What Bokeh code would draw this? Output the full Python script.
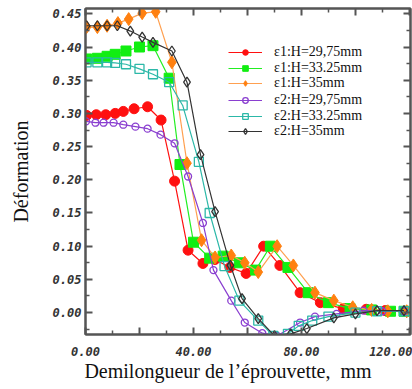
from bokeh.plotting import figure
from bokeh.models import (Range1d, LinearAxis, FixedTicker, NumeralTickFormatter,
                          Legend, LegendItem)
from bokeh.embed import file_html
from bokeh.resources import INLINE

# ---- data ----
x_e1_2975 = [0.4, 4, 7.5, 11, 14, 18, 23, 28, 33, 38, 43.5, 48, 53.5, 59.5, 66, 72, 79.5, 87, 95.5, 104, 111, 118]
y_e1_2975 = [0.297, 0.298, 0.298, 0.300, 0.303, 0.307, 0.310, 0.290, 0.198, 0.094, 0.074, 0.080, 0.068, 0.059,
             0.100, 0.071, 0.030, 0.015, 0.006, 0.005, 0.003, 0.002]

x_e1_3325 = [0.4, 4.4, 8, 11, 15, 20, 25, 31, 35, 40, 46, 51, 57, 63, 68.5, 75, 82.5, 90, 98, 106, 113, 118]
y_e1_3325 = [0.382, 0.383, 0.386, 0.389, 0.394, 0.400, 0.402, 0.353, 0.223, 0.106, 0.082, 0.085, 0.075, 0.064,
             0.100, 0.068, 0.030, 0.015, 0.006, 0.004, 0.002, 0.002]

x_e1_35 = [0.4, 4.4, 8, 12, 16, 21, 26, 32, 37.6, 43, 48, 54, 59, 64, 71, 77, 85, 92, 99, 106, 112, 119]
y_e1_35 = [0.430, 0.430, 0.432, 0.436, 0.442, 0.451, 0.453, 0.377, 0.225, 0.109, 0.083, 0.086, 0.075, 0.061,
           0.100, 0.071, 0.030, 0.018, 0.008, 0.004, 0.002, 0.002]

x_e2_2975 = [0.2, 3.7, 6.7, 10.4, 14, 18.5, 23, 27.8, 33, 38, 43.5, 47.4, 54, 59, 65.5, 71, 79.5, 85, 93, 103, 110, 118]
y_e2_2975 = [0.288, 0.286, 0.286, 0.286, 0.283, 0.280, 0.277, 0.268, 0.255, 0.205, 0.135, 0.064, 0.018, -0.015,
             -0.031, -0.035, -0.015, -0.006, -0.002, 0.003, 0.002, 0.002]

x_e2_3325 = [0.4, 4.4, 8, 11, 15, 20, 25, 31, 36, 42, 46, 51.5, 57, 64, 69.6, 75, 79, 84, 90, 100, 108, 118]
y_e2_3325 = [0.377, 0.377, 0.377, 0.376, 0.374, 0.367, 0.359, 0.347, 0.312, 0.227, 0.150, 0.070, 0.018, -0.012,
             -0.035, -0.032, -0.020, -0.012, -0.006, 0.000, 0.002, 0.002]

x_e2_35 = [0.4, 4.4, 8, 11.8, 16.6, 21, 25, 32, 37.6, 42.6, 48, 53.7, 58, 64, 70, 76, 82, 92, 100, 108, 118]
y_e2_35 = [0.432, 0.432, 0.432, 0.432, 0.424, 0.415, 0.407, 0.394, 0.347, 0.238, 0.152, 0.071, 0.021, -0.009,
           -0.035, -0.032, -0.024, -0.008, -0.002, 0.003, 0.003]

labels = ["ε1:H=29,75mm", "ε1:H=33.25mm", "ε1:H=35mm",
          "ε2:H=29,75mm", "ε2:H=33.25mm", "ε2:H=35mm"]

x_major = [0, 20, 40, 60, 80, 100, 120]
x_minor = [10, 30, 50, 70, 90, 110]
y_major = [0.0, 0.05, 0.10, 0.15, 0.20, 0.25, 0.30, 0.35, 0.40, 0.45]
y_minor = [-0.025, 0.025, 0.075, 0.125, 0.175, 0.225, 0.275, 0.325, 0.375, 0.425]

# ---- figure ----
p = figure(width=412, height=389, output_backend="svg", toolbar_location=None,
           x_range=Range1d(0, 120.4), y_range=Range1d(-0.033, 0.458),
           min_border_left=85, min_border_right=2, min_border_top=8, min_border_bottom=55)
p.grid.visible = False
p.outline_line_color = "#555555"
p.outline_line_width = 2
p.background_fill_color = "white"
p.border_fill_color = "white"

AX = "#555555"
tick_font = "DejaVu Sans Mono"

def style_axis(ax, show_labels):
    ax.axis_line_color = AX
    ax.axis_line_width = 2
    ax.major_tick_line_color = AX
    ax.minor_tick_line_color = AX
    ax.major_tick_line_width = 2
    ax.minor_tick_line_width = 1.5
    ax.major_tick_in = 7
    ax.major_tick_out = 0
    ax.minor_tick_in = 4
    ax.minor_tick_out = 0
    if show_labels:
        ax.major_label_text_font = tick_font
        ax.major_label_text_font_style = "bold italic"
        ax.major_label_text_font_size = "12px"
        ax.major_label_text_color = "#333333"
    else:
        ax.major_label_text_font_size = "0px"
        ax.major_label_standoff = 0

xt = FixedTicker(ticks=x_major, minor_ticks=x_minor)
yt = FixedTicker(ticks=y_major, minor_ticks=y_minor)

NB = "\u00a0"
xa = p.xaxis[0]
xa.ticker = xt
xa.formatter = NumeralTickFormatter(format="0.00")
xa.major_label_overrides = {20: "", 60: "", 100: ""}
style_axis(xa, True)
xa.major_label_standoff = 12
xa.axis_label = "Demilongueur de l’éprouvette," + NB + NB + "mm" + NB * 8
xa.axis_label_text_font = "Liberation Serif"
xa.axis_label_text_font_style = "normal"
xa.axis_label_text_font_size = "20px"
xa.axis_label_standoff = 1
xa.axis_label_text_color = "#111111"

ya = p.yaxis[0]
ya.ticker = yt
ya.formatter = NumeralTickFormatter(format="0.00")
style_axis(ya, True)
ya.major_label_standoff = 4
ya.axis_label = "Déformation"
ya.axis_label_text_font = "Liberation Serif"
ya.axis_label_text_font_style = "normal"
ya.axis_label_text_font_size = "20px"
ya.axis_label_standoff = 18
ya.axis_label_text_color = "#111111"

top = LinearAxis(ticker=xt)
style_axis(top, False)
p.add_layout(top, "above")
right = LinearAxis(ticker=yt)
style_axis(right, False)
p.add_layout(right, "right")

# ---- series ----
series = [
    (x_e1_2975, y_e1_2975, "#ff1010", "circle", 10, "#ff1010", "#ff1010"),
    (x_e1_3325, y_e1_3325, "#22ee22", "square", 10, "#11ee11", "#11ee11"),
    (x_e1_35, y_e1_35, "#ffa050", "diamond", 13, "#ff8010", "#ff8010"),
    (x_e2_2975, y_e2_2975, "#8a3fd0", "circle", 7, "#8a3fd0", None),
    (x_e2_3325, y_e2_3325, "#2cb8a8", "square", 9, "#2cb8a8", None),
    (x_e2_35, y_e2_35, "#333333", "diamond", 10, "#333333", None),
]

# legend row bottoms (screen px above the frame bottom), one legend per row
legend_rows = [274, 258.5, 243, 226, 210.5, 195]

for i, (xs, ys, lc, mk, sz, mlc, mfc) in enumerate(series):
    lr = p.line(xs, ys, line_color=lc, line_width=1.2)
    if mfc is None:
        sr = p.scatter(xs, ys, marker=mk, size=sz, line_color=mlc, fill_color=None, line_width=1.3)
    else:
        sr = p.scatter(xs, ys, marker=mk, size=sz, line_color=mlc, fill_color=mfc, line_width=1)
    lg = Legend(items=[LegendItem(label=labels[i], renderers=[lr, sr])],
                location=(143, legend_rows[i]), orientation="vertical",
                glyph_width=34, glyph_height=14, label_height=14, spacing=0,
                padding=0, margin=0, label_standoff=12,
                label_text_font="Liberation Serif", label_text_font_size="14px",
                label_text_color="#111111",
                border_line_color=None, background_fill_alpha=0)
    p.add_layout(lg, "center")

open("out.html", "w").write(file_html(p, INLINE))
